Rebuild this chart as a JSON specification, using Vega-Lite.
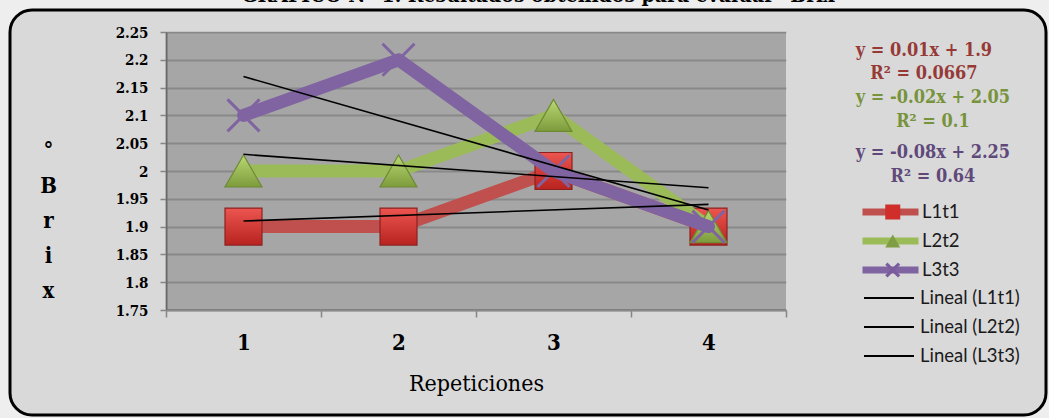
{
  "$schema": "https://vega.github.io/schema/vega-lite/v6.json",
  "width": 1036,
  "height": 405,
  "autosize": {"type": "none"},
  "padding": {"left": 10, "top": 10, "right": 3, "bottom": 3},
  "background": "#eeeeee",
  "view": {"fill": "#d9d9d9", "stroke": "#000000", "strokeWidth": 3, "cornerRadius": 22},
  "title": {
    "text": "GRÁFICO N° 1. Resultados obtenidos para evaluar °Brix",
    "font": "DejaVu Serif Condensed",
    "fontSize": 21,
    "fontWeight": "bold",
    "color": "#000000",
    "anchor": "middle",
    "baseline": "alphabetic",
    "offset": -13,
    "dx": 10
  },
  "data": {
    "values": [
      {"serie": "L1t1", "tendencia": "Lineal (L1t1)", "rep": 1, "brix": 1.9},
      {"serie": "L1t1", "tendencia": "Lineal (L1t1)", "rep": 2, "brix": 1.9},
      {"serie": "L1t1", "tendencia": "Lineal (L1t1)", "rep": 3, "brix": 2.0},
      {"serie": "L1t1", "tendencia": "Lineal (L1t1)", "rep": 4, "brix": 1.9},
      {"serie": "L2t2", "tendencia": "Lineal (L2t2)", "rep": 1, "brix": 2.0},
      {"serie": "L2t2", "tendencia": "Lineal (L2t2)", "rep": 2, "brix": 2.0},
      {"serie": "L2t2", "tendencia": "Lineal (L2t2)", "rep": 3, "brix": 2.1},
      {"serie": "L2t2", "tendencia": "Lineal (L2t2)", "rep": 4, "brix": 1.9},
      {"serie": "L3t3", "tendencia": "Lineal (L3t3)", "rep": 1, "brix": 2.1},
      {"serie": "L3t3", "tendencia": "Lineal (L3t3)", "rep": 2, "brix": 2.2},
      {"serie": "L3t3", "tendencia": "Lineal (L3t3)", "rep": 3, "brix": 2.0},
      {"serie": "L3t3", "tendencia": "Lineal (L3t3)", "rep": 4, "brix": 1.9}
    ]
  },
  "encoding": {
    "x": {
      "field": "rep",
      "type": "quantitative",
      "scale": {"domain": [0.5, 4.5], "range": [156, 776], "nice": false, "zero": false},
      "axis": {
        "offset": -105,
        "values": [0.5, 1, 1.5, 2, 2.5, 3, 3.5, 4, 4.5],
        "format": "~g",
        "labelExpr": "datum.value % 1 === 0 ? datum.label : ''",
        "labelFlush": false,
        "labelOverlap": false,
        "labelFont": "DejaVu Serif Condensed",
        "labelFontWeight": "bold",
        "labelFontSize": 22,
        "labelColor": "#000000",
        "labelPadding": 15,
        "tickSize": 7,
        "tickColor": "#868686",
        "tickWidth": 1.5,
        "tickOpacity": {"condition": {"test": "datum.value % 1 === 0", "value": 0}, "value": 1},
        "domainColor": "#8a8a8a",
        "domainWidth": 2,
        "grid": false,
        "title": "Repeticiones",
        "titleFont": "DejaVu Serif Condensed",
        "titleFontWeight": "normal",
        "titleFontSize": 23,
        "titleColor": "#000000",
        "titleBaseline": "alphabetic",
        "titleY": 80
      }
    },
    "y": {
      "field": "brix",
      "type": "quantitative",
      "scale": {"domain": [1.75, 2.25], "range": [300, 22], "nice": false, "zero": false},
      "axis": {
        "offset": -156,
        "values": [1.75, 1.8, 1.85, 1.9, 1.95, 2, 2.05, 2.1, 2.15, 2.2, 2.25],
        "format": "~g",
        "labelFlush": false,
        "labelOverlap": false,
        "labelFont": "DejaVu Serif Condensed",
        "labelFontWeight": "bold",
        "labelFontSize": 15,
        "labelColor": "#000000",
        "labelPadding": 12,
        "tickSize": 6,
        "tickColor": "#868686",
        "tickWidth": 1.5,
        "domainColor": "#8a8a8a",
        "domainWidth": 2,
        "grid": true,
        "gridColor": "#b4b4b4",
        "gridWidth": 2,
        "title": ["°", "B", "r", "i", "x"],
        "titleAngle": 0,
        "titleFont": "DejaVu Serif Condensed",
        "titleFontWeight": "bold",
        "titleFontSize": 22,
        "titleLineHeight": 35,
        "titleAlign": "center",
        "titleBaseline": "alphabetic",
        "titleColor": "#000000",
        "titleX": -118,
        "titleY": 147
      }
    }
  },
  "layer": [
    {
      "transform": [{"filter": "datum.serie === 'L1t1' && datum.rep === 1"}],
      "mark": {"type": "rect", "fill": "#000000", "fillOpacity": 0.235},
      "encoding": {
        "x": {"datum": 0.5},
        "x2": {"datum": 4.5},
        "y": {"datum": 1.75},
        "y2": {"datum": 2.25}
      }
    },
    {
      "transform": [{"filter": "datum.serie === 'L1t1'"}],
      "layer": [
        {
          "mark": {"type": "line", "strokeWidth": 13, "strokeJoin": "round", "strokeCap": "round"},
          "encoding": {
            "color": {
              "field": "serie",
              "type": "nominal",
              "scale": {
                "domain": ["L1t1", "L2t2", "L3t3"],
                "range": ["#c0504d", "#9bbb59", "#8064a2"]
              },
              "legend": {
                "title": null,
                "orient": "none",
                "legendX": 849,
                "legendY": 187.5,
                "symbolType": "stroke",
                "symbolSize": 3136,
                "symbolStrokeWidth": 7,
                "labelOffset": 0,
                "clipHeight": 29,
                "rowPadding": 0
              }
            }
          }
        },
        {
          "mark": {
            "type": "point",
            "shape": "square",
            "filled": true,
            "size": 1369,
            "opacity": 1,
            "fill": {
              "gradient": "linear", "x1": 0, "y1": 0, "x2": 0, "y2": 1,
              "stops": [{"offset": 0, "color": "#ec5550"}, {"offset": 1, "color": "#b8231f"}]
            },
            "stroke": "#8b2220",
            "strokeWidth": 1.2
          }
        }
      ]
    },
    {
      "transform": [{"filter": "datum.serie === 'L2t2'"}],
      "layer": [
        {
          "mark": {"type": "line", "strokeWidth": 13, "strokeJoin": "round", "strokeCap": "round"},
          "encoding": {"color": {"field": "serie", "type": "nominal"}}
        },
        {
          "mark": {
            "type": "point",
            "shape": "triangle-up",
            "filled": true,
            "size": 1369,
            "opacity": 1,
            "fill": {
              "gradient": "linear", "x1": 0, "y1": 0, "x2": 0, "y2": 1,
              "stops": [{"offset": 0, "color": "#b9d974"}, {"offset": 1, "color": "#7d9b3b"}]
            },
            "stroke": "#6e8a34",
            "strokeWidth": 1.2
          }
        }
      ]
    },
    {
      "transform": [{"filter": "datum.serie === 'L3t3'"}],
      "layer": [
        {
          "mark": {"type": "line", "strokeWidth": 13, "strokeJoin": "round", "strokeCap": "round"},
          "encoding": {"color": {"field": "serie", "type": "nominal"}}
        },
        {
          "mark": {
            "type": "point",
            "shape": "M-1,-1L1,1M-1,1L1,-1",
            "filled": false,
            "size": 1024,
            "opacity": 1,
            "stroke": "#8064a2",
            "strokeWidth": 3
          }
        }
      ]
    },
    {
      "transform": [{"regression": "brix", "on": "rep", "groupby": ["serie", "tendencia"]}],
      "mark": {"type": "line", "strokeWidth": 1.6},
      "encoding": {
        "stroke": {
          "field": "tendencia",
          "type": "nominal",
          "scale": {
            "domain": ["Lineal (L1t1)", "Lineal (L2t2)", "Lineal (L3t3)"],
            "range": ["#000000", "#000000", "#000000"]
          },
          "legend": {
            "title": null,
            "orient": "none",
            "legendX": 853,
            "legendY": 273.5,
            "symbolType": "stroke",
            "symbolSize": 2500,
            "symbolStrokeWidth": 2,
            "labelOffset": 5,
            "clipHeight": 29,
            "rowPadding": 0
          }
        }
      }
    },
    {
      "mark": {"type": "point", "filled": true, "opacity": 0, "size": 10},
      "encoding": {
        "shape": {
          "field": "serie",
          "type": "nominal",
          "scale": {
            "domain": ["L3t3", "L2t2", "L1t1"],
            "range": ["M-1,-0.7L-0.7,-1L0,-0.3L0.7,-1L1,-0.7L0.3,0L1,0.7L0.7,1L0,0.3L-0.7,1L-1,0.7L-0.3,0Z", "triangle-up", "square"]
          },
          "legend": {
            "title": null,
            "orient": "none",
            "legendX": 873.5,
            "legendY": 187.5,
            "values": ["L1t1", "L2t2", "L3t3"],
            "symbolSize": 225,
            "symbolOpacity": 1,
            "symbolStrokeWidth": 0,
            "labelExpr": "''",
            "clipHeight": 29,
            "rowPadding": 0
          }
        },
        "fill": {
          "field": "serie",
          "type": "nominal",
          "scale": {
            "domain": ["L3t3", "L2t2", "L1t1"],
            "range": ["#7a5c9e", "#7f9e43", "#cf2e2a"]
          }
        }
      }
    },
    {
      "transform": [{"filter": "datum.serie === 'L1t1' && datum.rep === 1"}],
      "mark": {
        "type": "text",
        "text": ["y = 0.01x + 1.9", "R² = 0.0667"],
        "font": "DejaVu Serif Condensed",
        "fontWeight": "bold",
        "fontSize": 18,
        "lineHeight": 23,
        "align": "center",
        "baseline": "alphabetic",
        "fill": "#963a37"
      },
      "encoding": {"x": {"datum": 5.39}, "y": {"datum": 2.2068}}
    },
    {
      "transform": [{"filter": "datum.serie === 'L2t2' && datum.rep === 1"}],
      "mark": {
        "type": "text",
        "text": ["y = -0.02x + 2.05", "R² = 0.1"],
        "font": "DejaVu Serif Condensed",
        "fontWeight": "bold",
        "fontSize": 18,
        "lineHeight": 24,
        "align": "center",
        "baseline": "alphabetic",
        "fill": "#77933c"
      },
      "encoding": {"x": {"datum": 5.448}, "y": {"datum": 2.1228}}
    },
    {
      "transform": [{"filter": "datum.serie === 'L3t3' && datum.rep === 1"}],
      "mark": {
        "type": "text",
        "text": ["y = -0.08x + 2.25", "R² = 0.64"],
        "font": "DejaVu Serif Condensed",
        "fontWeight": "bold",
        "fontSize": 18,
        "lineHeight": 24,
        "align": "center",
        "baseline": "alphabetic",
        "fill": "#60497a"
      },
      "encoding": {"x": {"datum": 5.448}, "y": {"datum": 2.0234}}
    }
  ],
  "config": {
    "legend": {
      "labelFont": "Lato",
      "labelFontSize": 18.5,
      "labelColor": "#1a1a1a",
      "padding": 0
    }
  }
}
